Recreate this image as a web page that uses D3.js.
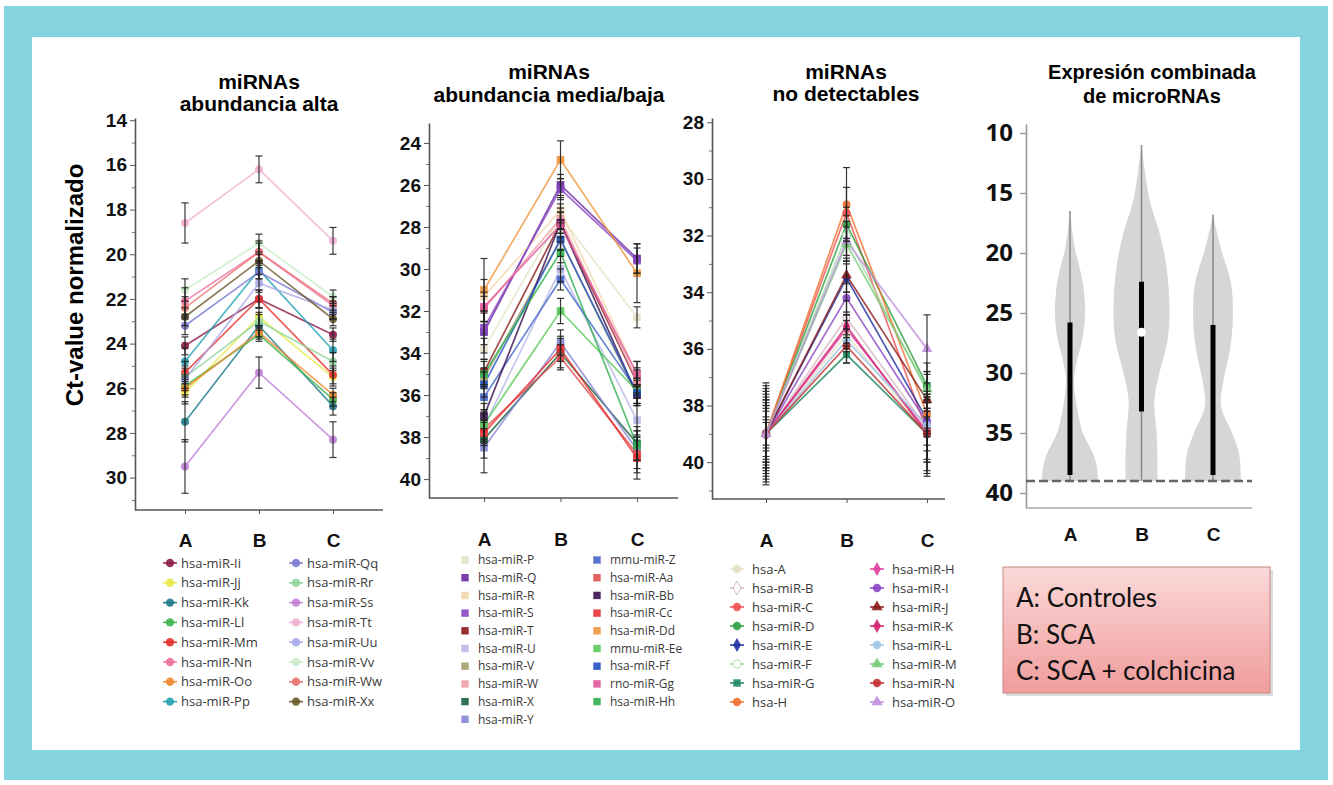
<!DOCTYPE html>
<html>
<head>
<meta charset="utf-8">
<script src="https://cdn.jsdelivr.net/npm/d3@7"></script>
<style>
  body { margin: 0; background: #fff; }
</style>
</head>
<body>
<svg id="chart" width="1333" height="785"></svg>
<script>

    // groups on the x axis
    var cats = ["A", "B", "C"];

    // ---- panel 1: miRNAs abundancia alta ----
    var altaNames = ["hsa-miR-Ii", "hsa-miR-Jj", "hsa-miR-Kk", "hsa-miR-Ll", "hsa-miR-Mm", "hsa-miR-Nn", "hsa-miR-Oo", "hsa-miR-Pp",
        "hsa-miR-Qq", "hsa-miR-Rr", "hsa-miR-Ss", "hsa-miR-Tt", "hsa-miR-Uu", "hsa-miR-Vv", "hsa-miR-Ww", "hsa-miR-Xx"];
    var altaValues = [
        [24.1, 22.0, 23.6], [26.2, 22.8, 25.5], [27.5, 23.2, 26.8], [25.9, 23.6, 26.5],
        [25.3, 22.0, 25.4], [22.1, 19.9, 22.3], [26.0, 23.5, 26.3], [24.8, 20.7, 24.3],
        [23.2, 20.8, 22.6], [25.5, 23.0, 24.8], [29.5, 25.3, 28.3], [18.6, 16.2, 19.4],
        [25.6, 21.3, 22.5], [21.6, 19.5, 21.9], [22.4, 19.9, 22.2], [22.8, 20.3, 22.9]];
    var altaErr = [
        [0.4, 0.4, 0.3], [0.5, 0.4, 0.4], [0.9, 0.5, 0.4], [0.4, 0.3, 0.3],
        [0.5, 0.4, 0.4], [0.6, 0.5, 0.4], [0.4, 0.3, 0.3], [0.6, 0.4, 0.5],
        [0.4, 0.3, 0.3], [0.5, 0.4, 0.4], [1.2, 0.7, 0.8], [0.9, 0.6, 0.6],
        [0.5, 0.4, 0.4], [0.5, 0.4, 0.3], [0.5, 0.4, 0.3], [0.4, 0.3, 0.3]];
    var altaTicks = [14, 16, 18, 20, 22, 24, 26, 28, 30];

    // ---- panel 2: miRNAs abundancia media/baja ----
    var mediaNames = ["hsa-miR-P", "hsa-miR-Q", "hsa-miR-R", "hsa-miR-S", "hsa-miR-T", "hsa-miR-U", "hsa-miR-V", "hsa-miR-W",
        "hsa-miR-X", "hsa-miR-Y", "mmu-miR-Z", "hsa-miR-Aa", "hsa-miR-Bb", "hsa-miR-Cc", "hsa-miR-Dd", "mmu-miR-Ee",
        "hsa-miR-Ff", "rno-miR-Gg", "hsa-miR-Hh"];
    var mediaValues = [
        [33.8, 27.5, 32.3], [33.0, 26.0, 29.5], [31.3, 27.2, 35.0], [32.8, 26.2, 29.6],
        [34.9, 27.8, 35.4], [37.5, 30.0, 37.2], [35.2, 28.6, 36.0], [31.9, 27.6, 35.3],
        [38.1, 34.0, 38.3], [38.5, 33.5, 38.6], [36.1, 30.5, 35.8], [37.6, 34.2, 38.8],
        [37.0, 27.8, 36.0], [37.8, 33.8, 39.0], [31.0, 24.8, 30.2], [37.4, 32.0, 35.8],
        [35.5, 28.6, 35.9], [31.8, 27.9, 35.0], [35.0, 29.2, 38.4]];
    var mediaErr = [
        [0.5, 0.6, 0.5], [1.0, 0.5, 0.7], [0.8, 0.6, 0.6], [0.8, 0.5, 0.6],
        [0.6, 0.5, 0.6], [0.7, 0.6, 0.8], [0.5, 0.5, 0.5], [0.6, 0.5, 0.6],
        [0.9, 0.7, 0.8], [1.2, 0.6, 0.9], [0.6, 0.5, 0.6], [0.7, 0.6, 0.9],
        [0.6, 0.5, 0.5], [0.6, 0.6, 1.0], [1.5, 0.9, 1.4], [0.7, 0.6, 0.6],
        [0.6, 0.5, 0.6], [0.7, 0.6, 0.6], [0.6, 0.5, 0.7]];
    var mediaTicks = [24, 26, 28, 30, 32, 34, 36, 38, 40];

    // ---- panel 3: miRNAs no detectables ----
    var noDetNames = ["hsa-A", "hsa-miR-B", "hsa-miR-C", "hsa-miR-D", "hsa-miR-E", "hsa-miR-F", "hsa-miR-G", "hsa-H",
        "hsa-miR-H", "hsa-miR-I", "hsa-miR-J", "hsa-miR-K", "hsa-miR-L", "hsa-miR-M", "hsa-miR-N", "hsa-miR-O"];
    var noDetValues = [
        [39, 35.5, 39.0], [39, 34.9, 38.8], [39, 31.2, 38.9], [39, 31.6, 37.3],
        [39, 33.5, 38.5], [39, 32.0, 37.5], [39, 36.2, 39.0], [39, 30.9, 38.3],
        [39, 35.3, 38.9], [39, 34.2, 38.6], [39, 33.4, 37.8], [39, 35.2, 39.0],
        [39, 35.7, 38.7], [39, 32.3, 37.4], [39, 35.9, 39.0], [39, 32.2, 36.0]];
    var noDetErr = [
        [1.7, 0.5, 0.9], [1.5, 0.6, 1.2], [1.2, 0.9, 0.5], [1.0, 0.6, 0.8],
        [0.8, 0.5, 0.6], [0.4, 0.7, 0.7], [1.6, 0.3, 1.5], [0.6, 1.3, 0.6],
        [1.3, 0.5, 1.1], [1.1, 0.5, 0.4], [0.9, 0.6, 1.0], [1.4, 0.4, 1.3],
        [0.5, 0.4, 0.9], [1.8, 0.6, 0.5], [1.0, 0.6, 1.4], [1.2, 0.7, 1.2]];
    var noDetTicks = [28, 30, 32, 34, 36, 38, 40];

    // ---- panel 4: expresion combinada (violins) ----
    var violinLevels = [
        [16.5, 18, 19.7, 21, 22.5, 25, 27.3, 29, 30.5, 32.3, 35, 36.7, 37.8, 39],
        [11, 13, 15.6, 18.3, 21.1, 24.5, 27.3, 30, 32.3, 35, 37, 39],
        [16.8, 18, 19.7, 22.5, 25.3, 28, 30.8, 32.8, 35, 36.7, 39]];
    var violinDensity = [
        [0, 0.07, 0.18, 0.32, 0.46, 0.54, 0.43, 0.25, 0.14, 0.21, 0.46, 0.82, 0.96, 1.0],
        [0, 0.11, 0.29, 0.64, 0.89, 1.0, 0.93, 0.64, 0.46, 0.54, 0.57, 0.57],
        [0, 0.11, 0.29, 0.64, 0.71, 0.61, 0.36, 0.29, 0.68, 0.93, 1.0]];
    var violinMin = [16.5, 11, 16.8];
    var violinMax = [39, 39, 39];
    var violinQ1 = [25.8, 22.4, 26.0];
    var violinQ3 = [38.5, 33.2, 38.5];
    var violinMedian = [null, 26.6, null];
    var detectionLimit = 39;
    var violinTicks = [10, 15, 20, 25, 30, 35, 40];

    var keyLines = ["A: Controles", "B: SCA", "C: SCA + colchicina"];

    // colours and symbols (styles only)
    var altaColors = ["#8b1a4a", "#e8e84a", "#1f7a8c", "#3cb44b", "#e6302a", "#ec6f9c", "#f08a30", "#26a2b4",
        "#7b7bd2", "#8fd69a", "#c07ed8", "#f2b0d0", "#a9a9ea", "#c6ecc6", "#ec7474", "#6b5a2a"];
    var mediaColors = ["#e6e2c6", "#6a2aa0", "#f4d6ae", "#8a46c4", "#8b1a1a", "#b9b9ea", "#a8a070", "#f0a0a8",
        "#1a6040", "#8585d6", "#4466c8", "#e05050", "#3a1050", "#e83030", "#f0963e", "#5ac85a",
        "#2052c4", "#e0589a", "#30b050"];
    var noDetColors = ["#e4e0c4", "#d8b8c0", "#f25050", "#2fa040", "#2030a0", "#a8dca8", "#1f8a60", "#f07030",
        "#e040a0", "#8a46c4", "#8b1a1a", "#d02070", "#9cc4e4", "#78cc78", "#c03030", "#c090e0"];
    var noDetSymbols = ["circle", "diamond", "circle", "circle", "diamond", "circle", "square", "circle",
        "diamond", "circle", "triangle", "diamond", "circle", "triangle", "circle", "triangle"];
    var noDetHollow = [false, true, false, false, false, true, false, false,
        false, false, false, false, false, false, false, false];

    var symbolTypes = {
        circle: d3.symbolCircle, diamond: d3.symbolDiamond,
        square: d3.symbolSquare, triangle: d3.symbolTriangle
    };
    var arial = "'Liberation Sans', Arial, sans-serif";
    var legendFont = "'Open Sans', 'DejaVu Sans', sans-serif";

    var svg = d3.select("#chart");

    // cyan frame
    svg.append("rect").attr("x", 4).attr("y", 6).attr("width", 1324).attr("height", 774).attr("fill", "#86d3e0");
    svg.append("rect").attr("x", 32).attr("y", 37).attr("width", 1268).attr("height", 713).attr("fill", "#fff");

    // y axis label
    svg.append("text")
        .attr("transform", "translate(83,285) rotate(-90)")
        .attr("text-anchor", "middle")
        .attr("font-family", arial).attr("font-weight", "bold").attr("font-size", 24)
        .text("Ct-value normalizado");

    function drawTitle(lines, cx, y0, gap, size) {
        lines.forEach(function (t, i) {
            svg.append("text").attr("x", cx).attr("y", y0 + i * gap)
                .attr("text-anchor", "middle")
                .attr("font-family", arial).attr("font-weight", "bold").attr("font-size", size)
                .text(t);
        });
    }

    function drawLinePanel(p) {
        var y = d3.scaleLinear().domain(p.domain).range([p.top, p.bottom]);
        var x = d3.scalePoint().domain(cats).range(p.xr);
        var g = svg.append("g");

        // y axis with minor ticks
        var minor = d3.range(Math.ceil(p.domain[0]), p.domain[1], 1).filter(function (v) { return p.ticks.indexOf(v) < 0; });
        g.append("g").attr("transform", "translate(" + p.left + ",0)")
            .call(d3.axisLeft(y).tickValues(minor).tickSize(3).tickFormat(""))
            .call(function (a) { a.select(".domain").remove(); a.selectAll("line").attr("stroke", "#777"); });
        var ya = g.append("g").attr("transform", "translate(" + p.left + ",0)")
            .call(d3.axisLeft(y).tickValues(p.ticks).tickSize(5).tickPadding(3).tickSizeOuter(0));
        ya.select(".domain").attr("stroke", "#555").attr("stroke-width", 1.6);
        ya.selectAll(".tick line").attr("stroke", "#555");
        ya.selectAll("text").attr("font-family", arial).attr("font-weight", "bold")
            .attr("font-size", 19).attr("fill", "#111");

        // x axis
        g.append("line").attr("x1", p.left).attr("x2", p.right)
            .attr("y1", p.bottom).attr("y2", p.bottom)
            .attr("stroke", "#555").attr("stroke-width", 1.6);
        var xa = g.append("g").attr("transform", "translate(0," + p.bottom + ")")
            .call(d3.axisBottom(x).tickSize(4).tickPadding(p.labelPad));
        xa.select(".domain").remove();
        xa.selectAll(".tick line").attr("stroke", "#555");
        xa.selectAll("text").attr("font-family", arial).attr("font-weight", "bold")
            .attr("font-size", 19).attr("fill", "#111");

        var line = d3.line()
            .x(function (d, i) { return x(cats[i]); })
            .y(function (d) { return y(d); });

        // series lines
        g.selectAll(".series").data(p.values).enter().append("path")
            .attr("d", line)
            .attr("fill", "none")
            .attr("stroke", function (d, i) { return p.colors[i]; })
            .attr("stroke-width", 1.7)
            .attr("stroke-opacity", 0.8);

        // markers
        p.values.forEach(function (vals, s) {
            var sym = d3.symbol().type(symbolTypes[p.symbols ? p.symbols[s] : p.symbol]).size(p.symSize);
            g.selectAll(null).data(vals).enter().append("path")
                .attr("d", sym)
                .attr("transform", function (d, i) { return "translate(" + x(cats[i]) + "," + y(d) + ")"; })
                .attr("fill", p.hollow && p.hollow[s] ? "#fff" : p.colors[s])
                .attr("fill-opacity", 0.9)
                .attr("stroke", p.hollow && p.hollow[s] ? p.colors[s] : "none")
                .attr("stroke-width", 1.2);
        });

        // error bars
        p.values.forEach(function (vals, s) {
            vals.forEach(function (v, i) {
                var e = p.err[s][i], cx = x(cats[i]);
                var eg = g.append("g").attr("stroke", "#222").attr("stroke-width", 1.2).attr("stroke-opacity", 0.9);
                eg.append("line").attr("x1", cx).attr("x2", cx).attr("y1", y(v - e)).attr("y2", y(v + e));
                eg.append("line").attr("x1", cx - 3.5).attr("x2", cx + 3.5).attr("y1", y(v - e)).attr("y2", y(v - e));
                eg.append("line").attr("x1", cx - 3.5).attr("x2", cx + 3.5).attr("y1", y(v + e)).attr("y2", y(v + e));
            });
        });

        // legend in two columns
        var lg = svg.append("g");
        p.names.forEach(function (name, s) {
            var col = s < p.split ? 0 : 1;
            var row = col === 0 ? s : s - p.split;
            var lx = p.legX[col], ly = p.legY + row * p.legDy;
            if (p.legLine) {
                lg.append("line").attr("x1", lx - 7).attr("x2", lx + 7).attr("y1", ly).attr("y2", ly)
                    .attr("stroke", p.colors[s]).attr("stroke-width", 1.5);
            }
            lg.append("path")
                .attr("d", d3.symbol().type(symbolTypes[p.symbols ? p.symbols[s] : p.symbol]).size(p.legSym))
                .attr("transform", "translate(" + lx + "," + ly + ")")
                .attr("fill", p.hollow && p.hollow[s] ? "#fff" : p.colors[s])
                .attr("fill-opacity", 0.9)
                .attr("stroke", p.hollow && p.hollow[s] ? p.colors[s] : "none");
            lg.append("text").attr("x", lx + p.legGap).attr("y", ly).attr("dy", "0.35em")
                .attr("font-family", legendFont).attr("font-size", p.legFont).attr("fill", "#3a3a3a")
                .text(name);
        });
    }

    drawTitle(["miRNAs", "abundancia alta"], 259, 89, 22, 21);
    drawLinePanel({
        names: altaNames, values: altaValues, err: altaErr, colors: altaColors, ticks: altaTicks,
        domain: [13.9, 31.45], top: 118, bottom: 510, left: 135, right: 383, xr: [185, 333], labelPad: 20,
        symbol: "circle", symSize: 50,
        split: 8, legX: [170, 296], legY: 563, legDy: 19.8, legGap: 11, legSym: 55, legFont: 13, legLine: true
    });

    drawTitle(["miRNAs", "abundancia media/baja"], 549, 79, 23, 21);
    drawLinePanel({
        names: mediaNames, values: mediaValues, err: mediaErr, colors: mediaColors, ticks: mediaTicks,
        domain: [23.05, 40.9], top: 123, bottom: 498, left: 429, right: 678, xr: [484, 637], labelPad: 31,
        symbol: "square", symSize: 60,
        split: 10, legX: [465, 597], legY: 560, legDy: 17.7, legGap: 13, legSym: 55, legFont: 12, legLine: false
    });

    drawTitle(["miRNAs", "no detectables"], 846, 79, 22, 21);
    drawLinePanel({
        names: noDetNames, values: noDetValues, err: noDetErr, colors: noDetColors, ticks: noDetTicks,
        symbols: noDetSymbols, hollow: noDetHollow,
        domain: [27.85, 41.3], top: 118, bottom: 499, left: 712, right: 945, xr: [766, 927], labelPad: 31,
        symSize: 50,
        split: 8, legX: [737, 877], legY: 569, legDy: 19, legGap: 15, legSym: 55, legFont: 13, legLine: true
    });

    // ---- violin panel ----
    drawTitle(["Expresión combinada", "de microRNAs"], 1152, 79, 24, 20);
    (function () {
        var y = d3.scaleLinear().domain([9.25, 41.25]).range([124, 508]);
        var x = d3.scalePoint().domain(cats).range([1070, 1213]);
        var w = d3.scaleLinear().domain([0, 1]).range([0, 28]);
        var g = svg.append("g");

        var ya = g.append("g").attr("transform", "translate(1026,0)")
            .call(d3.axisLeft(y).tickValues(violinTicks).tickSize(6).tickPadding(7).tickSizeOuter(0));
        ya.select(".domain").attr("stroke", "#999").attr("stroke-width", 1.6);
        ya.selectAll(".tick line").attr("stroke", "#999").attr("stroke-width", 1.4);
        ya.selectAll("text").attr("font-family", "'Open Sans', sans-serif").attr("font-weight", "bold")
            .attr("font-size", 24).attr("fill", "#111");

        g.append("line").attr("x1", 1026).attr("x2", 1252).attr("y1", y(41.25)).attr("y2", y(41.25))
            .attr("stroke", "#aaa").attr("stroke-width", 1.6);
        var xa = g.append("g").attr("transform", "translate(0," + y(41.25) + ")")
            .call(d3.axisBottom(x).tickSize(0).tickPadding(20));
        xa.select(".domain").remove();
        xa.selectAll("text").attr("font-family", arial).attr("font-weight", "bold")
            .attr("font-size", 19).attr("fill", "#111");

        cats.forEach(function (c, k) {
            var cx = x(c);
            var pts = violinLevels[k].map(function (v, i) { return [v, violinDensity[k][i]]; });
            var area = d3.area()
                .y(function (d) { return y(d[0]); })
                .x0(function (d) { return cx - w(d[1]); })
                .x1(function (d) { return cx + w(d[1]); })
                .curve(d3.curveCatmullRom);
            g.append("path").attr("d", area(pts)).attr("fill", "#d6d6d6");
            g.append("line").attr("x1", cx).attr("x2", cx)
                .attr("y1", y(violinMin[k])).attr("y2", y(violinMax[k]))
                .attr("stroke", "#8a8a8a").attr("stroke-width", 1.5);
            g.append("line").attr("x1", cx).attr("x2", cx)
                .attr("y1", y(violinQ1[k])).attr("y2", y(violinQ3[k]))
                .attr("stroke", "#000").attr("stroke-width", 5);
            if (violinMedian[k] !== null) {
                g.append("circle").attr("cx", cx).attr("cy", y(violinMedian[k])).attr("r", 4.5).attr("fill", "#fff");
            }
        });

        g.append("line").attr("x1", 1026).attr("x2", 1252)
            .attr("y1", y(detectionLimit)).attr("y2", y(detectionLimit))
            .attr("stroke", "#666").attr("stroke-width", 2.5).attr("stroke-dasharray", "9,4");
    })();

    // ---- group key box ----
    var defs = svg.append("defs");
    var grad = defs.append("linearGradient").attr("id", "keyFill").attr("x1", 0).attr("y1", 0).attr("x2", 0).attr("y2", 1);
    grad.append("stop").attr("offset", "0%").attr("stop-color", "#fbd9d9");
    grad.append("stop").attr("offset", "100%").attr("stop-color", "#f09c9c");
    svg.append("rect").attr("x", 1006).attr("y", 570).attr("width", 267).attr("height", 126).attr("fill", "#ddd");
    svg.append("rect").attr("x", 1003).attr("y", 567).attr("width", 267).attr("height", 126)
        .attr("fill", "url(#keyFill)").attr("stroke", "#c98585").attr("stroke-width", 1);
    keyLines.forEach(function (t, i) {
        svg.append("text").attr("x", 1016).attr("y", 607 + i * 36.5)
            .attr("font-family", "Lato, 'Open Sans', sans-serif").attr("font-size", 26).attr("fill", "#111")
            .text(t);
    });

</script>
</body>
</html>
